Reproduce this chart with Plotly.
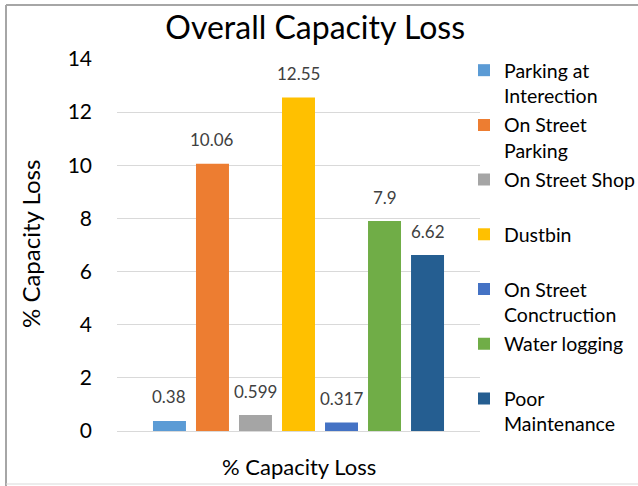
import plotly.graph_objects as go

categories = ["Parking at<br>Interection", "On Street<br>Parking", "On Street Shop",
              "Dustbin", "On Street<br>Conctruction", "Water logging",
              "Poor<br>Maintenance"]
values = [0.38, 10.06, 0.599, 12.55, 0.317, 7.9, 6.62]
labels = ["0.38", "10.06", "0.599", "12.55", "0.317", "7.9", "6.62"]
colors = ["#5B9BD5", "#ED7D31", "#A5A5A5", "#FFC000", "#4472C4", "#70AD47", "#255E91"]
y_ticks = [0, 2, 4, 6, 8, 10, 12, 14]

FONT = "Lato"
L, R, T, B = 117, 158, 59, 55
W, H = 638, 486
pw = W - L - R
ph = H - T - B


def px_to_xpaper(px):
    return (px - L) / pw


def py_to_ypaper(py):
    return (H - B - py) / ph


fig = go.Figure()
legend_layouts = {}
annotations = []
for i, (name, v, lab, c) in enumerate(zip(categories, values, labels, colors)):
    lg = "legend" if i == 0 else f"legend{i + 1}"
    fig.add_trace(go.Bar(
        x=[name], y=[v], name=name, legend=lg,
        marker=dict(color=c, line=dict(width=0)), showlegend=True,
    ))
    annotations.append(dict(
        text=lab, x=name, y=v, xref="x", yref="y", showarrow=False,
        yanchor="middle", yshift=24,
        font=dict(family=FONT, size=17, color="#404040"),
    ))
    top_px = 71 + 54.7 * i - 20
    legend_layouts[lg] = dict(
        x=px_to_xpaper(464), xanchor="left", y=py_to_ypaper(top_px), yanchor="top",
        valign="top", font=dict(family=FONT, size=19.5, color="#000000"),
        bgcolor="rgba(0,0,0,0)", itemclick=False, itemdoubleclick=False,
    )

annotations += [
    dict(text="% Capacity Loss", x=px_to_xpaper(30), y=py_to_ypaper(244),
         xref="paper", yref="paper", showarrow=False, textangle=-90,
         font=dict(family=FONT, size=24, color="#000000"),
         xanchor="center", yanchor="middle"),
    dict(text="% Capacity Loss", x=px_to_xpaper(299), y=py_to_ypaper(467),
         xref="paper", yref="paper", showarrow=False,
         font=dict(family=FONT, size=22, color="#000000"),
         xanchor="center", yanchor="middle"),
]

fig.update_layout(
    width=W, height=H,
    margin=dict(l=L, r=R, t=T, b=B, autoexpand=False),
    paper_bgcolor="white", plot_bgcolor="white",
    bargap=0.233,
    title=dict(text="Overall Capacity Loss", x=0.494, xref="container", xanchor="center",
               y=1 - 28 / H, yref="container", yanchor="middle",
               font=dict(family=FONT, size=32, color="#000000")),
    showlegend=True,
    font=dict(family=FONT),
    xaxis=dict(showticklabels=False, showgrid=False, zeroline=False, showline=False,
               ticks="", type="category", range=[-1.22, 7.22]),
    yaxis=dict(range=[0, 14], tickvals=y_ticks, showgrid=True, gridcolor="#D9D9D9",
               gridwidth=1, zeroline=True, zerolinecolor="#D9D9D9", zerolinewidth=1,
               showline=False, ticks="", ticklabelstandoff=24,
               tickfont=dict(family=FONT, size=21, color="#000000")),
    annotations=annotations,
    shapes=[
        dict(type="line", xref="paper", yref="paper",
             x0=px_to_xpaper(6), x1=px_to_xpaper(6), y0=py_to_ypaper(486), y1=py_to_ypaper(5),
             line=dict(color="#A6A6A6", width=2), layer="below"),
        dict(type="line", xref="paper", yref="paper",
             x0=px_to_xpaper(6), x1=px_to_xpaper(640), y0=py_to_ypaper(5), y1=py_to_ypaper(5),
             line=dict(color="#A6A6A6", width=2), layer="below"),
        dict(type="line", xref="paper", yref="paper",
             x0=px_to_xpaper(6), x1=px_to_xpaper(640), y0=py_to_ypaper(484), y1=py_to_ypaper(484),
             line=dict(color="#D9D9D9", width=1), layer="below"),
    ],
    **legend_layouts,
)

fig.write_html("out.html", config={"displayModeBar": False},
               post_script="document.body.style.margin='0';")
